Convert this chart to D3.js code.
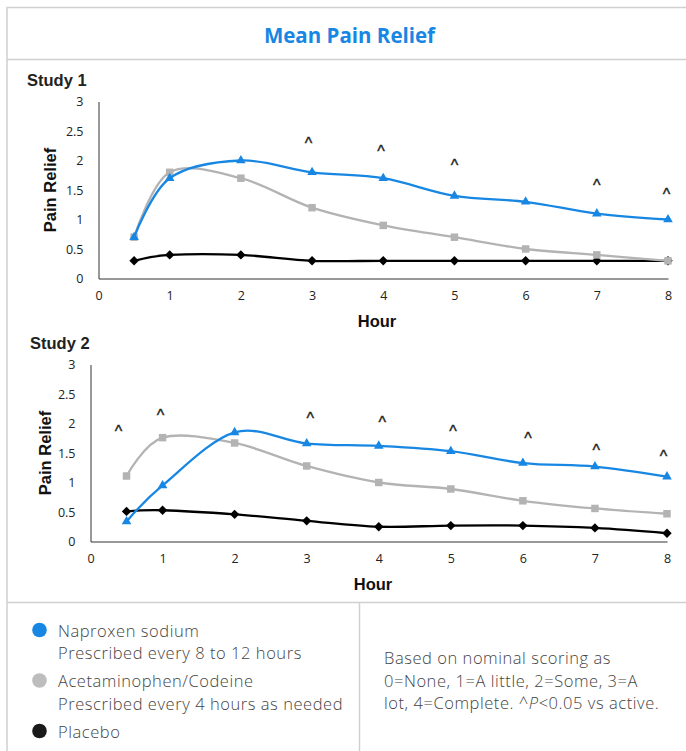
<!DOCTYPE html>
<html>
<head>
<meta charset="utf-8">
<script src="https://cdn.jsdelivr.net/npm/d3@7"></script>
<style>
  html, body { margin: 0; padding: 0; background: #fff; }
  svg { display: block; }
</style>
</head>
<body>
<div id="chart"></div>
<script>
// ---- data ----
const hours = [0.5, 1, 2, 3, 4, 5, 6, 7, 8];

const study1Naproxen = [0.7, 1.7, 2.0, 1.8, 1.7, 1.4, 1.3, 1.1, 1.0];
const study1Acetaminophen = [0.7, 1.8, 1.7, 1.2, 0.9, 0.7, 0.5, 0.4, 0.3];
const study1Placebo = [0.3, 0.4, 0.4, 0.3, 0.3, 0.3, 0.3, 0.3, 0.3];
const study1CaretHours = [2.95, 3.97, 5.0, 7.0, 7.98];
const study1CaretLevels = [2.34, 2.22, 1.98, 1.64, 1.49];

const study2Naproxen = [0.34, 0.95, 1.85, 1.66, 1.62, 1.53, 1.33, 1.27, 1.10];
const study2Acetaminophen = [1.11, 1.76, 1.67, 1.28, 1.0, 0.89, 0.69, 0.56, 0.47];
const study2Placebo = [0.51, 0.53, 0.46, 0.35, 0.25, 0.27, 0.27, 0.23, 0.14];
const study2CaretHours = [0.39, 0.97, 3.05, 4.05, 5.03, 6.07, 7.02, 7.95];
const study2CaretLevels = [1.92, 2.2, 2.14, 2.07, 1.92, 1.8, 1.6, 1.5];

const yTicks = [0, 0.5, 1, 1.5, 2, 2.5, 3];
const xTicks = [0, 1, 2, 3, 4, 5, 6, 7, 8];

const legendNames = ['Naproxen sodium', 'Acetaminophen/Codeine', 'Placebo'];
const legendNotes = ['Prescribed every 8 to 12 hours', 'Prescribed every 4 hours as needed', null];
const footnoteLines = ['Based on nominal scoring as', '0=None, 1=A little, 2=Some, 3=A'];

// ---- look ----
const width = 686, height = 751;
const blue = '#1787e3', gray = '#b3b3b3', black = '#000';
const border = '#d0d0d0';
const boldFont = '"Liberation Sans", Arial, sans-serif';
const tickFont = '"Open Sans", sans-serif';
const textFont = '"Open Sans", sans-serif';

const svg = d3.select('#chart').append('svg')
  .attr('width', width)
  .attr('height', height);

// frame
const frame = svg.append('g')
  .attr('fill', 'none')
  .attr('stroke', border)
  .attr('stroke-width', 1.5);
frame.append('path').attr('d', `M7,${height} V7.5 H${width}`);
frame.append('path').attr('d', `M7,59.5 H${width}`);
frame.append('path').attr('d', `M7,602.5 H${width}`);
frame.append('path').attr('d', `M359.5,602.5 V${height}`);

svg.append('text')
  .attr('x', 349.5).attr('y', 42.5)
  .attr('text-anchor', 'middle')
  .attr('font-family', textFont)
  .attr('font-weight', 'bold')
  .attr('font-size', 20.5)
  .attr('fill', blue)
  .text('Mean Pain Relief');

function drawStudy(cfg) {
  const { title, titleX, titleY, x0, x1, yBottom, yTop, yLabelX, hourX, hourY,
          naproxen, acetaminophen, placebo, caretHours, caretLevels } = cfg;

  const x = d3.scaleLinear().domain([0, 8]).range([x0, x1]);
  const y = d3.scaleLinear().domain([0, 3]).range([yBottom, yTop]);
  const g = svg.append('g');

  g.append('text')
    .attr('x', titleX).attr('y', titleY)
    .attr('font-family', boldFont)
    .attr('font-weight', 'bold')
    .attr('font-size', 16.5)
    .attr('fill', '#222')
    .text(title);

  const yAxis = g.append('g')
    .attr('transform', `translate(${x0},0)`)
    .call(d3.axisLeft(y).tickValues(yTicks).tickFormat(d3.format('~g'))
      .tickSize(0).tickPadding(15));
  const xAxis = g.append('g')
    .attr('transform', `translate(0,${yBottom})`)
    .call(d3.axisBottom(x).tickValues(xTicks).tickSize(0).tickPadding(13));
  [yAxis, xAxis].forEach(a => {
    a.select('.domain').attr('stroke', '#333').attr('stroke-width', 1);
    a.selectAll('text')
      .attr('font-family', tickFont)
      .attr('font-size', 12.5)
      .attr('fill', '#222');
  });

  g.append('text')
    .attr('transform', `translate(${yLabelX},${(yTop + yBottom) / 2}) rotate(-90)`)
    .attr('text-anchor', 'middle')
    .attr('dy', '0.35em')
    .attr('font-family', boldFont)
    .attr('font-weight', 'bold')
    .attr('font-size', 16.5)
    .attr('fill', '#111')
    .text('Pain Relief');

  g.append('text')
    .attr('x', hourX).attr('y', hourY)
    .attr('text-anchor', 'middle')
    .attr('font-family', boldFont)
    .attr('font-weight', 'bold')
    .attr('font-size', 16.5)
    .attr('fill', '#111')
    .text('Hour');

  const line = d3.line()
    .x((d, i) => x(hours[i]))
    .y(d => y(d))
    .curve(d3.curveCardinal.tension(0));

  const series = [
    { values: placebo, color: black, symbol: d3.symbolSquare, size: 44, rotate: 45 },
    { values: acetaminophen, color: gray, symbol: d3.symbolSquare, size: 56, rotate: 0 },
    { values: naproxen, color: blue, symbol: d3.symbolTriangle, size: 40, rotate: 0 },
  ];

  series.forEach(s => {
    g.append('path')
      .attr('d', line(s.values))
      .attr('fill', 'none')
      .attr('stroke', s.color)
      .attr('stroke-width', 2.3);
    g.selectAll(null)
      .data(s.values)
      .join('path')
      .attr('transform', (d, i) => `translate(${x(hours[i])},${y(d)}) rotate(${s.rotate})`)
      .attr('d', d3.symbol(s.symbol, s.size))
      .attr('fill', s.color);
  });

  g.selectAll(null)
    .data(caretHours)
    .join('text')
    .attr('x', d => x(d))
    .attr('y', (d, i) => y(caretLevels[i]) + 9)
    .attr('text-anchor', 'middle')
    .attr('font-family', boldFont)
    .attr('font-size', 16)
    .attr('stroke', '#222')
    .attr('stroke-width', 0.4)
    .attr('fill', '#222')
    .text('^');
}

drawStudy({
  title: 'Study 1', titleX: 27, titleY: 86,
  x0: 98.5, x1: 668, yBottom: 278.5, yTop: 101.5, yLabelX: 50,
  hourX: 377, hourY: 327,
  naproxen: study1Naproxen, acetaminophen: study1Acetaminophen, placebo: study1Placebo,
  caretHours: study1CaretHours, caretLevels: study1CaretLevels,
});

drawStudy({
  title: 'Study 2', titleX: 30, titleY: 349,
  x0: 90.5, x1: 667, yBottom: 541.5, yTop: 364.5, yLabelX: 45,
  hourX: 373, hourY: 590,
  naproxen: study2Naproxen, acetaminophen: study2Acetaminophen, placebo: study2Placebo,
  caretHours: study2CaretHours, caretLevels: study2CaretLevels,
});

// legend
const legendColors = [blue, '#bdbdbd', '#1a1a1a'];
const legendY = [636.5, 687, 737.5];
const legend = svg.append('g')
  .attr('font-family', textFont)
  .attr('font-weight', 300)
  .attr('font-size', 16.5)
  .attr('letter-spacing', 0.55)
  .attr('fill', '#444');

legend.selectAll('circle')
  .data(legendNames)
  .join('circle')
  .attr('cx', 39.5)
  .attr('cy', (d, i) => legendY[i] - 6.5)
  .attr('r', 7.3)
  .attr('fill', (d, i) => legendColors[i]);

legend.selectAll('text.name')
  .data(legendNames)
  .join('text')
  .attr('class', 'name')
  .attr('x', 58)
  .attr('y', (d, i) => legendY[i])
  .text(d => d);

legend.selectAll('text.note')
  .data(legendNotes.filter(d => d))
  .join('text')
  .attr('class', 'note')
  .attr('x', 58)
  .attr('y', (d, i) => legendY[i] + 22.5)
  .text(d => d);

const foot = legend.append('g');
foot.selectAll('text')
  .data(footnoteLines)
  .join('text')
  .attr('x', 384)
  .attr('y', (d, i) => 664 + i * 22.5)
  .text(d => d);
const last = foot.append('text').attr('x', 384).attr('y', 709);
last.append('tspan').text('lot, 4=Complete. ^');
last.append('tspan').attr('font-style', 'italic').text('P');
last.append('tspan').text('<0.05 vs active.');
</script>
</body>
</html>
